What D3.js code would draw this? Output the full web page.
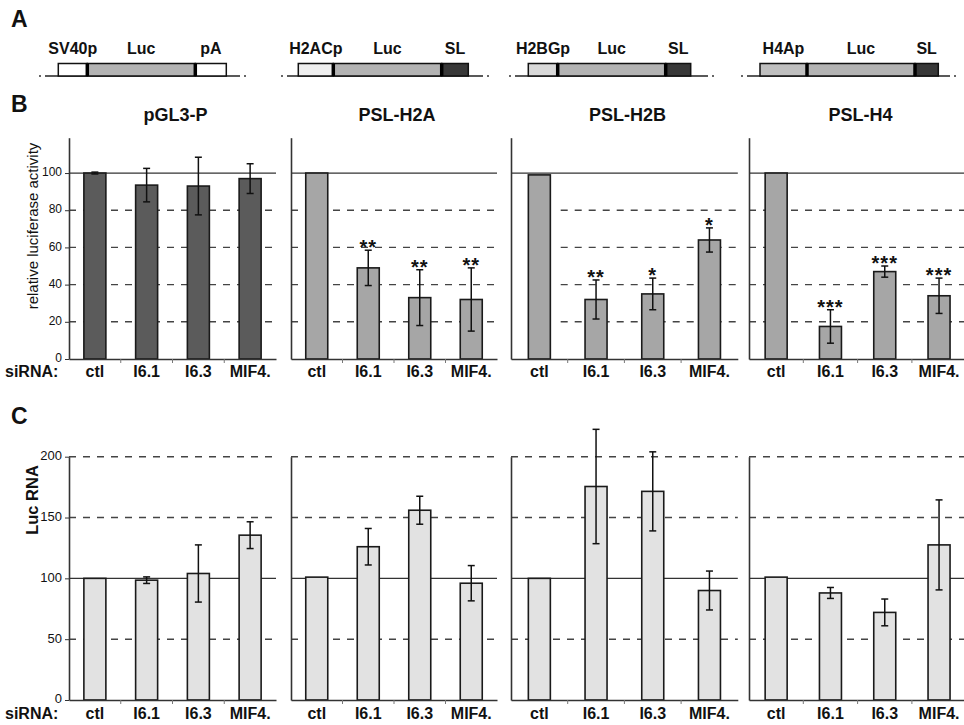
<!DOCTYPE html>
<html>
<head>
<meta charset="utf-8">
<script src="https://cdnjs.cloudflare.com/ajax/libs/d3/7.8.5/d3.min.js"></script>
<style>
  body { margin: 0; background: #fff; }
  text { font-family: "Liberation Sans", Arial, sans-serif; fill: #111; }
</style>
</head>
<body>
<svg id="chart" width="964" height="725"></svg>
<script>
// ---- data ----
const categories = ["ctl", "I6.1", "I6.3", "MIF4."];
const panelTitles = ["pGL3-P", "PSL-H2A", "PSL-H2B", "PSL-H4"];

// B: relative luciferase activity (mean, error)
const lucActivity = [
  [100, 93.5, 93, 97],
  [100, 49, 33, 32],
  [99, 32, 35, 64],
  [100, 17.5, 47, 34]
];
const lucActivityErr = [
  [0.5, 9, 15.5, 8],
  [0, 9.5, 15, 17],
  [0, 10.5, 8.5, 6.5],
  [0, 9, 3, 9.5]
];
const significance = [
  ["", "", "", ""],
  ["", "**", "**", "**"],
  ["", "**", "*", "*"],
  ["", "***", "***", "***"]
];
const activityTicks = [0, 20, 40, 60, 80, 100];
const activityGrid = [20, 40, 60, 80];

// C: Luc RNA (mean, error)
const lucRNA = [
  [100, 98.5, 104, 135.5],
  [101, 126, 156, 96],
  [100, 175.5, 171.5, 90],
  [101, 88, 72, 127.5]
];
const lucRNAErr = [
  [0, 2.7, 23.5, 11],
  [0, 15, 11.5, 14.5],
  [0, 47, 32.5, 16],
  [0, 4.5, 11, 37]
];
const rnaTicks = [0, 50, 100, 150, 200];
const rnaGrid = [50, 150, 200];

// A: reporter constructs
const promoterLabels = ["SV40p", "H2ACp", "H2BGp", "H4Ap"];
const tailLabels = ["pA", "SL", "SL", "SL"];

// ---- layout ----
const svg = d3.select("#chart");
const panelX = [69, 291, 511, 749];
const panelStep = [51.75, 51.5, 56.7, 54.3];
const barWidth = 22;

const xScales = panelX.map((x0, i) =>
  d3.scaleBand().domain(categories).range([x0, x0 + panelStep[i] * categories.length]));

const yB = d3.scaleLinear().domain([0, 119]).range([359, 137.7]);
const yC = d3.scaleLinear().domain([0, 200]).range([700, 456.7]);

function drawPanel(i, x, y, values, errs, opts) {
  const g = svg.append("g");
  const [x0, x1] = x.range();
  const center = d => x(d) + x.bandwidth() / 2;

  // dashed grid
  g.selectAll(".grid")
    .data(opts.grid)
    .enter().append("line")
    .attr("x1", opts.gridStart || x0).attr("x2", x1)
    .attr("y1", d => y(d)).attr("y2", d => y(d))
    .attr("stroke", "#444")
    .attr("stroke-width", 1.4)
    .attr("stroke-dasharray", "7,7");

  // solid reference line at 100
  g.append("line")
    .attr("x1", x0).attr("x2", x1)
    .attr("y1", y(100)).attr("y2", y(100))
    .attr("stroke", "#333")
    .attr("stroke-width", 1.3);

  // bars
  g.selectAll(".bar")
    .data(categories)
    .enter().append("rect")
    .attr("x", d => center(d) - barWidth / 2)
    .attr("y", (d, j) => y(values[j]))
    .attr("width", barWidth)
    .attr("height", (d, j) => y(0) - y(values[j]))
    .attr("fill", opts.fill)
    .attr("stroke", "#1a1a1a")
    .attr("stroke-width", 1.6);

  // error bars
  const idx = d => categories.indexOf(d);
  const eb = g.selectAll(".err")
    .data(categories.filter((d, j) => errs[j] > 0))
    .enter().append("g")
    .attr("stroke", "#111")
    .attr("stroke-width", 1.5);
  eb.append("line")
    .attr("x1", center).attr("x2", center)
    .attr("y1", d => y(values[idx(d)] + errs[idx(d)]))
    .attr("y2", d => y(values[idx(d)] - errs[idx(d)]));
  [1, -1].forEach(s => {
    eb.append("line")
      .attr("x1", d => center(d) - 3.5).attr("x2", d => center(d) + 3.5)
      .attr("y1", d => y(values[idx(d)] + s * errs[idx(d)]))
      .attr("y2", d => y(values[idx(d)] + s * errs[idx(d)]));
  });

  // significance stars
  if (opts.stars) {
    g.selectAll(".star")
      .data(categories)
      .enter().append("text")
      .attr("x", center)
      .attr("y", (d, j) => y(values[j] + errs[j]) + 4)
      .attr("text-anchor", "middle")
      .style("font-size", "20px")
      .style("font-weight", "bold")
      .style("letter-spacing", "1px")
      .text((d, j) => opts.stars[j]);
  }

  // y axis
  const yAxis = g.append("g")
    .attr("transform", `translate(${x0},0)`)
    .call(d3.axisLeft(y)
      .tickValues(i === 0 ? opts.ticks : [])
      .tickSize(i === 0 ? 4 : 0)
      .tickSizeOuter(0)
      .tickPadding(3));
  yAxis.select(".domain").attr("stroke", "#333").attr("stroke-width", 1.6);
  yAxis.selectAll(".tick line").attr("stroke", "#333");
  yAxis.selectAll(".tick text")
    .attr("dy", "0.22em")
    .style("font-size", opts.tickFont)
    .style("font-family", "'Liberation Sans', Arial, sans-serif")
    .attr("fill", "#111");

  // x axis
  const xAxis = g.append("g")
    .attr("transform", `translate(0,${y(0)})`)
    .call(d3.axisBottom(x).tickSize(0).tickSizeOuter(0));
  xAxis.select(".domain").attr("stroke", "#333").attr("stroke-width", 1.6);
  xAxis.selectAll(".tick text")
    .attr("y", opts.labelOffset)
    .attr("dy", null)
    .style("font-size", "16px")
    .style("font-weight", "bold")
    .style("font-family", "'Liberation Sans', Arial, sans-serif")
    .attr("fill", "#111");
  g.selectAll(".btick")
    .data(categories.slice(1))
    .enter().append("line")
    .attr("x1", d => x(d)).attr("x2", d => x(d))
    .attr("y1", y(0)).attr("y2", y(0) + 4)
    .attr("stroke", "#777")
    .attr("stroke-width", 1);
}

// ---- panel A: constructs ----
const constructLine = [[40, 245], [282, 488], [510, 713], [742, 955]];
const constructBox = [58.3, 298.3, 528.3, 760];
const constructSegs = [[29, 108, 31], [35, 108.4, 26.6], [29.4, 108, 25], [47, 108, 23.3]];
const promoterFill = ["#ffffff", "#efefef", "#d9d9d9", "#bfbfbf"];
const tailFill = ["#ffffff", "#383838", "#383838", "#383838"];
const lucFill = "#b3b3b3";
const boxTop = 63.5, boxBottom = 76;

promoterLabels.forEach((p, i) => {
  const g = svg.append("g");
  const [l0, l1] = constructLine[i];
  g.append("line")
    .attr("x1", l0 + 5).attr("x2", l1 - 5)
    .attr("y1", boxBottom).attr("y2", boxBottom)
    .attr("stroke", "#222").attr("stroke-width", 1.5);
  [l0, l1].forEach(xd => g.append("circle")
    .attr("cx", xd).attr("cy", boxBottom).attr("r", 1).attr("fill", "#333"));

  const widths = constructSegs[i];
  const starts = [constructBox[i], constructBox[i] + widths[0], constructBox[i] + widths[0] + widths[1]];
  const fills = [promoterFill[i], lucFill, tailFill[i]];
  const labels = [p, "Luc", tailLabels[i]];
  starts.forEach((s, k) => {
    g.append("rect")
      .attr("x", s).attr("y", boxTop)
      .attr("width", widths[k]).attr("height", boxBottom - boxTop)
      .attr("fill", fills[k])
      .attr("stroke", "#111").attr("stroke-width", 1.5);
    g.append("text")
      .attr("x", s + widths[k] / 2)
      .attr("y", 54)
      .attr("text-anchor", "middle")
      .style("font-size", "16px")
      .style("font-weight", "bold")
      .text(labels[k]);
  });
  // thick separators
  starts.slice(1).forEach(s => g.append("line")
    .attr("x1", s).attr("x2", s)
    .attr("y1", boxTop).attr("y2", boxBottom)
    .attr("stroke", "#000").attr("stroke-width", 3.5));
});

// ---- panel B and C ----
xScales.forEach((x, i) => {
  drawPanel(i, x, yB, lucActivity[i], lucActivityErr[i], {
    grid: activityGrid,
    gridStart: i === 2 ? x(categories[1]) - 7 : null,
    ticks: activityTicks,
    fill: i === 0 ? "#5b5b5b" : "#a6a6a6",
    stars: significance[i],
    tickFont: "12px",
    labelOffset: 18
  });
  drawPanel(i, x, yC, lucRNA[i], lucRNAErr[i], {
    grid: rnaGrid,
    ticks: rnaTicks,
    fill: "#e2e2e2",
    stars: null,
    tickFont: "13px",
    labelOffset: 19
  });

  const [x0, x1] = x.range();
  svg.append("text")
    .attr("x", (x0 + x1) / 2 + 3)
    .attr("y", 121)
    .attr("text-anchor", "middle")
    .style("font-size", "18px")
    .style("font-weight", "bold")
    .text(panelTitles[i]);
});

// row labels
[377, 719].forEach(yy => svg.append("text")
  .attr("x", 5).attr("y", yy)
  .style("font-size", "16px")
  .style("font-weight", "bold")
  .text("siRNA:"));

svg.append("text")
  .attr("transform", "translate(38,226) rotate(-90)")
  .attr("text-anchor", "middle")
  .style("font-size", "15px")
  .text("relative luciferase activity");

svg.append("text")
  .attr("transform", "translate(38,500) rotate(-90)")
  .attr("text-anchor", "middle")
  .style("font-size", "16.5px")
  .style("font-weight", "bold")
  .text("Luc RNA");

// panel letters
[["A", 27], ["B", 112], ["C", 424]].forEach(([t, yy]) => svg.append("text")
  .attr("x", 11).attr("y", yy)
  .style("font-size", "23px")
  .style("font-weight", "bold")
  .text(t));
</script>
</body>
</html>
